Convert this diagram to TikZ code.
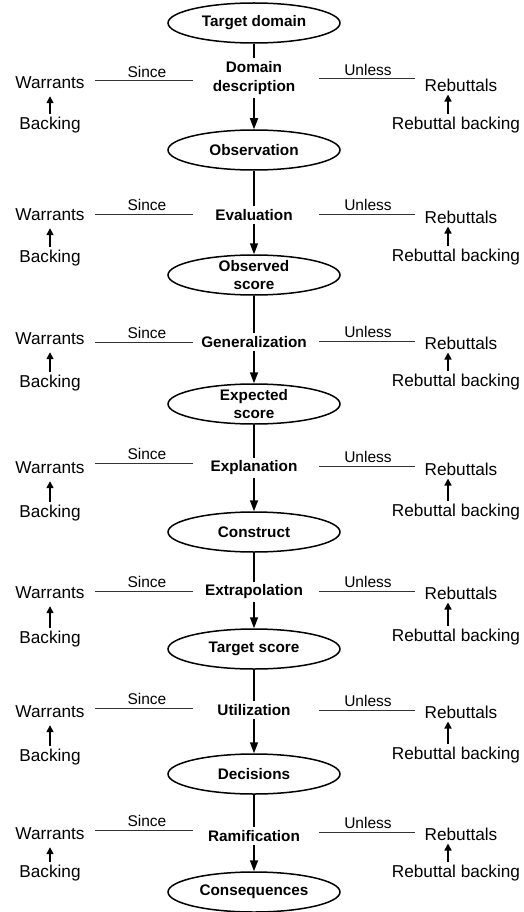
\documentclass[tikz,border=0pt]{standalone}
\usepackage{fontspec}
\setmainfont{Liberation Sans}
\usetikzlibrary{shapes.geometric,arrows.meta}
\begin{document}
\begin{tikzpicture}[x=1pt,y=-1pt,
  stage/.style={ellipse, draw, line width=1.5pt, minimum width=172pt,
    minimum height=40pt, inner sep=0pt, align=center,
    font=\fontsize{15.3}{18.5}\selectfont\bfseries},
  twoline/.style={inner ysep=-4pt},
  mid/.style={inner sep=3pt, align=center,
    font=\fontsize{15.3}{19}\selectfont\bfseries},
  side/.style={inner sep=0pt, font=\fontsize{17.2}{20}\selectfont},
  tag/.style={inner sep=2.5pt, text=black, font=\fontsize{15.5}{18}\selectfont},
  link/.style={line width=1.5pt},
  flow/.style={line width=1.5pt, -{Triangle[length=11pt,width=8pt]}},
  prop/.style={line width=1.5pt, -{Triangle[length=7pt,width=7pt]}},
  rule/.style={line width=1pt, black!80},
]
\useasboundingbox (0,0) rectangle (523,912);

% chain of inferences, from target domain to consequences
\node[stage] (E1) at (254,23) {Target domain};
\node[stage] (E2) at (254,150) {Observation};
\node[stage,twoline] (E3) at (254,275) {Observed\\score};
\node[stage,twoline] (E4) at (254,404) {Expected\\score};
\node[stage] (E5) at (254,532) {Construct};
\node[stage] (E6) at (254,649) {Target score};
\node[stage] (E7) at (254,774) {Decisions};
\node[stage] (E8) at (254,892) {Consequences};

% each inference with its warrants and rebuttals
\foreach \i/\txt/\ym/\yw/\yb/\yr/\yrb/\ys/\yu in {
  1/{Domain\\description}/78/83/125/85/125/81/79,
  2/Evaluation/215/215/258/217/257/214/214,
  3/Generalization/342/339/383/343/382/342/341,
  4/Explanation/468/468/513/469/512/463/466,
  5/Extrapolation/592/593/639/593/637/591/591,
  6/Utilization/710/712/757/712/755/708/710,
  7/Ramification/836/834/873/834/873/830/832}{
  \pgfmathtruncatemacro\j{\i+1}
  \node[mid] (M\i) at (254,\ym) {\txt};
  \node[side] (W\i) at (50,\yw) {Warrants};
  \node[side] (B\i) at (50,\yb) {Backing};
  \node[side] (R\i) at (461,\yr) {Rebuttals};
  \node[side] (RB\i) at (456,\yrb) {Rebuttal backing};
  \coordinate (sa\i) at (95,\ys);
  \coordinate (sb\i) at (193,\ys);
  \coordinate (ua\i) at (319,\yu);
  \coordinate (ub\i) at (415,\yu);
  \draw[link] (E\i) -- (M\i);
  \draw[flow] (M\i) -- (E\j);
  \draw[rule] (sa\i) -- node[tag, above, pos=0.53] {Since} (sb\i);
  \draw[rule] (ua\i) -- node[tag, above, pos=0.51] {Unless} (ub\i);
  \draw[prop] ([yshift=3pt]B\i.north) -- ([yshift=-7pt]W\i.south);
  \draw[prop] ([xshift=-8pt,yshift=3pt]RB\i.north) -- ([xshift=-13pt,yshift=-3pt]R\i.south);
}
\end{tikzpicture}
\end{document}
